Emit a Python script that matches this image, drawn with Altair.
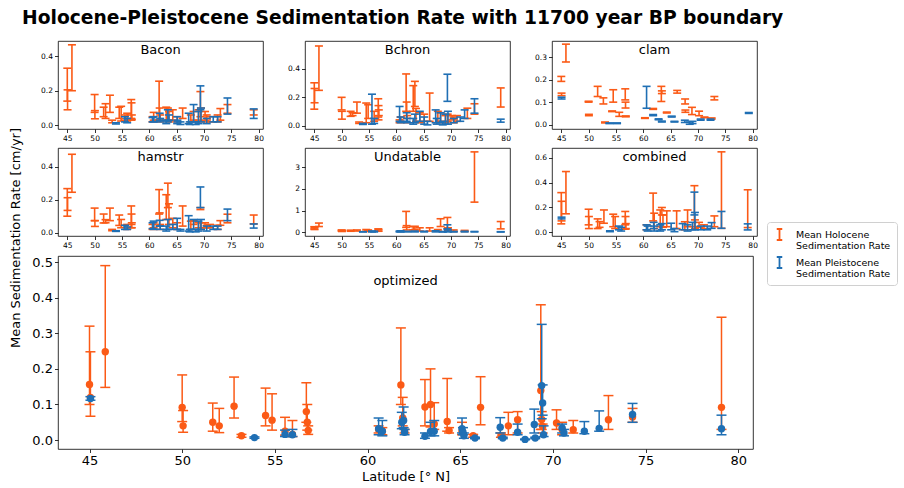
import altair as alt
import pandas as pd

TITLE = "Holocene-Pleistocene Sedimentation Rate with 11700 year BP boundary"
Y_TITLE = "Mean Sedimentation Rate [cm/yr]"
X_TITLE = "Latitude [° N]"
FONT = "DejaVu Sans"
ORANGE = "#fb5a16"
BLUE = "#1f6fb4"
SERIES = ["Mean Holocene|Sedimentation Rate", "Mean Pleistocene|Sedimentation Rate"]
X_DOMAIN = [43.3, 80.8]
X_TICKS = [45, 50, 55, 60, 65, 70, 75, 80]

# ---- small panels: (latitude, lower, upper) ----
BACON_H = [(45.0, 0.14, 0.33), (45.05, 0.09, 0.205), (45.85, 0.20, 0.465),
           (50.0, 0.075, 0.178), (50.05, 0.038, 0.085), (51.65, 0.05, 0.105),
           (52.0, 0.04, 0.125), (52.8, 0.075, 0.174), (53.2, 0.015, 0.03),
           (54.5, 0.04, 0.105), (54.85, 0.025, 0.11), (55.55, 0.03, 0.06),
           (55.95, 0.025, 0.07), (56.7, 0.04, 0.149), (56.75, 0.03, 0.13),
           (56.8, 0.035, 0.06), (60.6, 0.02, 0.05), (60.8, 0.03, 0.075),
           (61.8, 0.03, 0.255), (61.9, 0.03, 0.10), (62.0, 0.02, 0.06),
           (63.1, 0.03, 0.105), (63.4, 0.03, 0.10), (63.6, 0.02, 0.08),
           (64.3, 0.03, 0.09), (65.1, 0.02, 0.05), (66.1, 0.04, 0.10),
           (67.6, 0.02, 0.06), (68.1, 0.03, 0.08), (69.0, 0.03, 0.09),
           (69.35, 0.05, 0.195), (69.45, 0.02, 0.10), (70.2, 0.03, 0.08),
           (70.5, 0.02, 0.06), (71.1, 0.02, 0.05), (72.5, 0.02, 0.06),
           (73.0, 0.03, 0.097), (74.3, 0.07, 0.12), (79.1, 0.06, 0.09)]
BACON_P = [(53.9, 0.008, 0.015), (55.55, 0.02, 0.05), (55.95, 0.015, 0.04),
           (60.6, 0.02, 0.045), (60.8, 0.02, 0.05), (61.9, 0.03, 0.07),
           (62.0, 0.02, 0.04), (63.1, 0.01, 0.03), (63.4, 0.02, 0.09),
           (63.6, 0.03, 0.06), (65.1, 0.01, 0.05), (65.15, 0.02, 0.03),
           (65.7, 0.005, 0.02), (67.2, 0.01, 0.07), (67.4, 0.005, 0.02),
           (68.1, 0.02, 0.12), (68.5, 0.005, 0.02), (69.0, 0.01, 0.08),
           (69.35, 0.09, 0.228), (69.45, 0.02, 0.10), (70.5, 0.01, 0.04),
           (71.7, 0.02, 0.05), (72.5, 0.02, 0.05), (74.3, 0.065, 0.158),
           (79.1, 0.04, 0.095)]

BCHRON_H = [(45.0, 0.115, 0.30), (45.05, 0.16, 0.26), (45.85, 0.247, 0.558),
            (50.0, 0.11, 0.198), (50.05, 0.045, 0.10), (51.65, 0.065, 0.10),
            (52.0, 0.07, 0.09), (52.8, 0.087, 0.165), (53.2, 0.015, 0.025),
            (54.5, 0.02, 0.158), (54.85, 0.05, 0.146), (55.95, 0.03, 0.10),
            (56.7, 0.06, 0.188), (56.75, 0.04, 0.14), (56.8, 0.07, 0.11),
            (60.6, 0.02, 0.04), (60.8, 0.03, 0.06), (61.8, 0.10, 0.362),
            (61.9, 0.05, 0.165), (62.0, 0.02, 0.07), (63.1, 0.10, 0.28),
            (63.4, 0.134, 0.31), (63.6, 0.03, 0.12), (64.3, 0.02, 0.09),
            (65.1, 0.03, 0.08), (66.1, 0.03, 0.228), (67.6, 0.02, 0.10),
            (68.1, 0.03, 0.09), (69.0, 0.02, 0.07), (69.4, 0.03, 0.08),
            (70.2, 0.04, 0.07), (70.5, 0.02, 0.06), (71.1, 0.03, 0.07),
            (73.0, 0.05, 0.122), (74.3, 0.08, 0.153), (79.1, 0.13, 0.264)]
BCHRON_P = [(53.9, 0.008, 0.015), (55.55, 0.01, 0.22), (55.95, 0.015, 0.05),
            (60.6, 0.03, 0.134), (60.8, 0.02, 0.06), (61.9, 0.03, 0.09),
            (62.0, 0.02, 0.05), (63.1, 0.01, 0.05), (63.4, 0.02, 0.08),
            (64.3, 0.03, 0.10), (65.1, 0.01, 0.06), (65.7, 0.005, 0.03),
            (67.2, 0.02, 0.11), (67.4, 0.01, 0.05), (68.1, 0.02, 0.09),
            (68.5, 0.005, 0.03), (69.0, 0.01, 0.08), (69.35, 0.17, 0.36),
            (69.45, 0.01, 0.10), (70.5, 0.02, 0.05), (71.7, 0.03, 0.06),
            (72.5, 0.05, 0.11), (74.3, 0.087, 0.188), (79.1, 0.024, 0.045)]

CLAM_H = [(45.0, 0.192, 0.214), (45.05, 0.129, 0.14), (45.85, 0.278, 0.357),
          (50.0, 0.10, 0.104), (50.05, 0.04, 0.046), (51.65, 0.125, 0.17),
          (52.7, 0.092, 0.119), (53.0, 0.008, 0.012), (54.5, 0.10, 0.155),
          (54.3, 0.058, 0.061), (55.6, 0.037, 0.055), (56.7, 0.11, 0.159),
          (56.75, 0.074, 0.10), (56.8, 0.035, 0.039), (60.3, 0.028, 0.031),
          (61.8, 0.068, 0.072), (63.3, 0.103, 0.17), (63.4, 0.138, 0.15),
          (64.3, 0.052, 0.056), (66.2, 0.14, 0.152), (67.65, 0.092, 0.114),
          (67.7, 0.055, 0.065), (68.9, 0.045, 0.077), (70.2, 0.04, 0.06),
          (71.2, 0.031, 0.034), (72.5, 0.025, 0.03), (73.0, 0.11, 0.125)]
CLAM_P = [(45.05, 0.114, 0.122), (53.8, 0.005, 0.008), (55.2, 0.005, 0.008),
          (60.6, 0.073, 0.17), (61.8, 0.04, 0.045), (62.8, 0.022, 0.026),
          (63.4, 0.012, 0.016), (65.2, 0.034, 0.038), (65.7, 0.012, 0.015),
          (67.6, 0.01, 0.02), (68.5, 0.002, 0.012), (69.0, 0.005, 0.015),
          (70.5, 0.02, 0.025), (72.3, 0.02, 0.025), (79.3, 0.05, 0.054)]

HAMSTR_H = [(45.0, 0.10, 0.267), (45.05, 0.135, 0.212), (45.85, 0.245, 0.475),
            (50.0, 0.073, 0.149), (50.05, 0.038, 0.073), (51.65, 0.059, 0.113),
            (52.0, 0.06, 0.079), (52.8, 0.073, 0.149), (53.2, 0.012, 0.02),
            (54.5, 0.044, 0.107), (54.85, 0.03, 0.08), (55.95, 0.02, 0.05),
            (56.7, 0.03, 0.162), (56.75, 0.05, 0.113), (56.8, 0.03, 0.06),
            (60.6, 0.02, 0.05), (60.8, 0.03, 0.06), (61.8, 0.113, 0.261),
            (61.9, 0.04, 0.12), (62.0, 0.02, 0.05), (63.1, 0.08, 0.23),
            (63.4, 0.152, 0.30), (63.6, 0.05, 0.175), (64.3, 0.03, 0.087),
            (65.1, 0.02, 0.06), (66.1, 0.04, 0.162), (67.6, 0.02, 0.07),
            (68.1, 0.05, 0.073), (69.0, 0.03, 0.06), (69.35, 0.14, 0.152),
            (69.45, 0.02, 0.06), (70.2, 0.03, 0.06), (70.5, 0.03, 0.045),
            (71.1, 0.03, 0.05), (72.5, 0.02, 0.045), (73.0, 0.045, 0.073),
            (74.3, 0.06, 0.112), (79.1, 0.053, 0.107)]
HAMSTR_P = [(53.9, 0.008, 0.012), (55.55, 0.02, 0.045), (55.95, 0.02, 0.035),
            (60.6, 0.025, 0.06), (60.8, 0.02, 0.07), (61.9, 0.04, 0.075),
            (62.0, 0.02, 0.04), (63.1, 0.01, 0.04), (63.4, 0.02, 0.08),
            (64.3, 0.02, 0.05), (65.1, 0.02, 0.087), (65.7, 0.01, 0.02),
            (67.2, 0.01, 0.103), (67.4, 0.005, 0.02), (68.1, 0.02, 0.08),
            (68.5, 0.005, 0.02), (69.0, 0.01, 0.07), (69.35, 0.152, 0.277),
            (69.45, 0.02, 0.08), (70.5, 0.01, 0.04), (71.7, 0.02, 0.04),
            (72.5, 0.02, 0.04), (74.3, 0.073, 0.143), (79.1, 0.028, 0.053)]

UNDAT_H = [(45.0, 0.15, 0.25), (45.05, 0.12, 0.22), (45.85, 0.26, 0.42),
           (50.0, 0.05, 0.10), (50.05, 0.03, 0.08), (51.65, 0.04, 0.09),
           (52.8, 0.05, 0.10), (54.5, 0.04, 0.12), (54.85, 0.03, 0.10),
           (56.7, 0.05, 0.15), (56.75, 0.04, 0.12), (61.8, 0.22, 0.96),
           (61.9, 0.10, 0.30), (63.1, 0.10, 0.25), (63.4, 0.12, 0.27),
           (64.3, 0.05, 0.20), (66.1, 0.05, 0.20), (67.6, 0.05, 0.12),
           (68.1, 0.26, 0.62), (69.35, 0.15, 0.68), (69.45, 0.08, 0.20),
           (70.5, 0.03, 0.10), (72.5, 0.03, 0.08), (74.3, 1.39, 3.72),
           (79.1, 0.15, 0.49)]
UNDAT_P = [(53.9, 0.01, 0.02), (55.55, 0.01, 0.05), (55.95, 0.01, 0.04),
           (60.6, 0.01, 0.05), (60.8, 0.01, 0.06), (62.0, 0.01, 0.04),
           (63.4, 0.01, 0.05), (65.1, 0.01, 0.04), (67.2, 0.01, 0.06),
           (68.5, 0.005, 0.03), (69.35, 0.15, 0.34), (69.45, 0.01, 0.10),
           (70.5, 0.01, 0.03), (72.5, 0.01, 0.04), (74.3, 0.01, 0.03),
           (79.1, 0.005, 0.02)]

COMB_H = [(45.0, 0.068, 0.32), (45.05, 0.092, 0.25), (45.85, 0.149, 0.49),
          (50.0, 0.06, 0.186), (50.05, 0.03, 0.127), (51.65, 0.03, 0.108),
          (52.0, 0.04, 0.086), (52.8, 0.073, 0.18), (54.5, 0.045, 0.146),
          (54.85, 0.03, 0.127), (56.7, 0.06, 0.168), (56.75, 0.025, 0.127),
          (56.8, 0.03, 0.07), (60.6, 0.02, 0.06), (61.8, 0.092, 0.316),
          (62.0, 0.03, 0.154), (63.1, 0.045, 0.18), (63.4, 0.14, 0.20),
          (63.6, 0.04, 0.14), (64.3, 0.045, 0.173), (66.1, 0.03, 0.173),
          (67.6, 0.02, 0.085), (68.1, 0.045, 0.18), (69.35, 0.045, 0.376),
          (69.45, 0.03, 0.10), (70.2, 0.04, 0.08), (71.1, 0.03, 0.06),
          (73.0, 0.045, 0.132), (74.3, 0.032, 0.649), (79.1, 0.038, 0.343)]
COMB_P = [(45.05, 0.108, 0.122), (53.9, 0.005, 0.012), (55.55, 0.02, 0.05),
          (55.95, 0.01, 0.04), (60.6, 0.02, 0.06), (60.8, 0.01, 0.05),
          (61.9, 0.03, 0.08), (62.0, 0.01, 0.05), (63.1, 0.01, 0.06),
          (63.4, 0.02, 0.07), (65.1, 0.02, 0.073), (65.7, 0.005, 0.03),
          (67.2, 0.02, 0.07), (68.1, 0.01, 0.06), (69.0, 0.02, 0.08),
          (69.35, 0.14, 0.324), (69.45, 0.02, 0.16), (70.5, 0.02, 0.05),
          (71.7, 0.02, 0.05), (72.5, 0.032, 0.078), (74.3, 0.032, 0.168),
          (79.1, 0.019, 0.068)]

# ---- big "optimized" panel: (latitude, mean, lower, upper) ----
OPT_H = [(45.0, 0.156, 0.10, 0.32), (45.05, 0.12, 0.067, 0.248),
         (45.85, 0.248, 0.148, 0.49), (50.0, 0.092, 0.052, 0.183),
         (50.05, 0.04, 0.022, 0.083), (51.65, 0.05, 0.025, 0.104),
         (52.0, 0.04, 0.021, 0.089), (52.8, 0.095, 0.062, 0.177),
         (53.2, 0.012, 0.008, 0.016), (54.5, 0.069, 0.04, 0.146),
         (54.85, 0.056, 0.028, 0.13), (55.55, 0.025, 0.014, 0.064),
         (55.95, 0.016, 0.01, 0.055), (56.7, 0.08, 0.05, 0.161),
         (56.75, 0.05, 0.028, 0.10), (56.8, 0.027, 0.016, 0.04),
         (60.6, 0.03, 0.02, 0.04), (60.8, 0.025, 0.015, 0.035),
         (61.8, 0.155, 0.10, 0.315), (61.9, 0.062, 0.04, 0.12),
         (62.0, 0.025, 0.02, 0.03), (63.1, 0.093, 0.04, 0.17),
         (63.4, 0.10, 0.037, 0.20), (63.6, 0.045, 0.03, 0.105),
         (64.3, 0.052, 0.025, 0.173), (64.4, 0.027, 0.02, 0.035),
         (65.1, 0.025, 0.015, 0.05), (65.7, 0.012, 0.008, 0.016),
         (66.1, 0.092, 0.043, 0.178), (67.2, 0.013, 0.008, 0.02),
         (67.6, 0.04, 0.015, 0.078), (68.1, 0.057, 0.02, 0.08),
         (69.35, 0.139, 0.03, 0.38), (69.4, 0.058, 0.03, 0.08),
         (69.45, 0.038, 0.02, 0.045), (70.2, 0.048, 0.03, 0.085),
         (70.5, 0.03, 0.015, 0.05), (71.1, 0.029, 0.02, 0.055),
         (73.0, 0.057, 0.03, 0.125), (74.3, 0.065, 0.05, 0.089),
         (79.1, 0.092, 0.03, 0.345)]
OPT_P = [(45.05, 0.117, 0.112, 0.122), (53.9, 0.007, 0.005, 0.009),
         (55.55, 0.016, 0.01, 0.028), (55.95, 0.015, 0.01, 0.03),
         (60.6, 0.032, 0.015, 0.062), (60.8, 0.025, 0.012, 0.055),
         (61.85, 0.05, 0.032, 0.078), (61.95, 0.055, 0.035, 0.093),
         (62.0, 0.022, 0.015, 0.03), (63.1, 0.011, 0.005, 0.02),
         (63.4, 0.024, 0.012, 0.05), (63.6, 0.025, 0.012, 0.055),
         (65.1, 0.032, 0.02, 0.062), (65.15, 0.022, 0.015, 0.035),
         (65.2, 0.012, 0.005, 0.02), (65.8, 0.006, 0.004, 0.008),
         (67.16, 0.036, 0.02, 0.063), (67.3, 0.006, 0.004, 0.008),
         (68.1, 0.022, 0.015, 0.045), (68.5, 0.002, 0.001, 0.003),
         (69.0, 0.044, 0.02, 0.087), (69.05, 0.006, 0.004, 0.008),
         (69.4, 0.153, 0.06, 0.325), (69.45, 0.104, 0.07, 0.155),
         (69.5, 0.015, 0.01, 0.04), (70.5, 0.034, 0.02, 0.045),
         (70.6, 0.02, 0.012, 0.03), (71.7, 0.025, 0.018, 0.052),
         (72.5, 0.033, 0.025, 0.082), (74.3, 0.072, 0.05, 0.103),
         (79.1, 0.032, 0.015, 0.07)]

legend = alt.Legend(
    title=None, orient="none", legendX=758, legendY=181,
    symbolType="M-0.5,-1H0.5M0,-1V1M-0.5,1H0.5", symbolSize=121,
    symbolStrokeWidth=1.8, labelExpr="split(datum.label, '|')",
    labelFontSize=9.5, labelFont=FONT, labelColor="black", labelOffset=10,
    labelLimit=300, strokeColor="#d0d0d0", fillColor="white", padding=6,
    cornerRadius=3, rowPadding=2,
)
color_scale = alt.Scale(domain=SERIES, range=[ORANGE, BLUE])

Y_EXT = 28
X_EXT_SMALL = 13


def panel(name, h_rows, p_rows, y_domain, y_ticks, y_format, width, height,
          big=False):
    cols = ["lat", "mean", "lo", "hi"] if big else ["lat", "lo", "hi"]
    fs = 13 if big else 7.5
    cap = 10 if big else 8
    sw = 1.5 if big else 1.6
    xkw = dict(values=X_TICKS, format="d", labelFontSize=fs, tickSize=3.5,
               labelPadding=2)
    ykw = dict(values=y_ticks, format=y_format, labelFontSize=fs, tickSize=3.5,
               labelPadding=2, title=None, minExtent=Y_EXT, maxExtent=Y_EXT)
    if big:
        xkw.update(title=X_TITLE, titleFontSize=13, titlePadding=3)
    else:
        xkw.update(title=None, minExtent=X_EXT_SMALL, maxExtent=X_EXT_SMALL)
    xs = alt.Scale(domain=X_DOMAIN, nice=False, zero=False)
    ys = alt.Scale(domain=y_domain, nice=False, zero=False)
    X = alt.X("lat:Q", scale=xs, axis=alt.Axis(**xkw))

    def Y(field):
        return alt.Y(field, scale=ys, axis=alt.Axis(**ykw))

    layers = []
    for rows, label, col in [(h_rows, SERIES[0], ORANGE), (p_rows, SERIES[1], BLUE)]:
        df = pd.DataFrame(rows, columns=cols)
        df["series"] = label
        base = alt.Chart(df)
        layers.append(base.mark_rule(strokeWidth=sw).encode(
            x=X, y=Y("lo:Q"), y2="hi:Q",
            color=alt.Color("series:N", scale=color_scale, legend=legend)))
        for f in ["lo:Q", "hi:Q"]:
            layers.append(base.mark_tick(orient="horizontal", size=cap,
                                         thickness=sw, color=col, opacity=1)
                          .encode(x=X, y=Y(f)))
        if big:
            layers.append(base.mark_circle(size=55, opacity=1, color=col)
                          .encode(x=X, y=Y("mean:Q")))
    # panel name written inside the top of the plot area
    layers.append(
        alt.Chart(pd.DataFrame({"name": [name]})).mark_text(
            fontSize=13, font=FONT, color="black", baseline="alphabetic",
            align="center",
        ).encode(text="name:N", x=alt.value(width / 2),
                 y=alt.value(29 if big else 13))
    )
    return alt.layer(*layers).properties(width=width, height=height)


W, H = 205, 88
bacon = panel("Bacon", BACON_H, BACON_P, [-0.021, 0.487], [0, 0.2, 0.4], ".1f", W, H)
bchron = panel("Bchron", BCHRON_H, BCHRON_P, [-0.024, 0.593], [0, 0.2, 0.4], ".1f", W, H)
clam = panel("clam", CLAM_H, CLAM_P, [-0.019, 0.371], [0, 0.1, 0.2, 0.3], ".1f", W, H)
hamstr = panel("hamstr", HAMSTR_H, HAMSTR_P, [-0.02, 0.513], [0, 0.2, 0.4], ".1f", W, H)
undat = panel("Undatable", UNDAT_H, UNDAT_P, [-0.18, 3.9], [0, 1, 2, 3], "d", W, H)
comb = panel("combined", COMB_H, COMB_P, [-0.03, 0.68], [0, 0.2, 0.4, 0.6], ".1f", W, H)
opt = panel("optimized", OPT_H, OPT_P, [-0.025, 0.517],
            [0, 0.1, 0.2, 0.3, 0.4, 0.5], ".1f", 695, 193, big=True)

ytitle = alt.Chart(pd.DataFrame({"label": [Y_TITLE]})).mark_text(
    angle=270, fontSize=13, font=FONT, color="black", baseline="middle",
    align="center",
).encode(
    text="label:N", x=alt.value(7), y=alt.value(197),
).properties(width=14, height=404, view=alt.ViewBackground(strokeOpacity=0))

row1 = alt.hconcat(bacon, bchron, clam, spacing=40 - Y_EXT)
row2 = alt.hconcat(hamstr, undat, comb, spacing=40 - Y_EXT)
grid = alt.vconcat(alt.vconcat(row1, row2, spacing=17 - X_EXT_SMALL), opt,
                   spacing=18 - X_EXT_SMALL)

chart = alt.hconcat(ytitle, grid, spacing=33 - Y_EXT).properties(
    title=alt.TitleParams(TITLE, anchor="start", fontSize=18.7, fontWeight="bold",
                          font=FONT, color="black", offset=13, dx=13),
    padding={"left": 9, "top": 8, "right": 0, "bottom": 4},
    background="white",
).resolve_scale(color="shared").configure_view(
    stroke="black", strokeWidth=0.8
).configure_axis(
    domain=False, grid=False, labelColor="black", tickColor="black",
    tickWidth=0.8, labelFont=FONT, titleFont=FONT, titleFontWeight="normal",
    titleColor="black",
)

chart.save("out.html", embed_options={"renderer": "svg", "actions": False})
